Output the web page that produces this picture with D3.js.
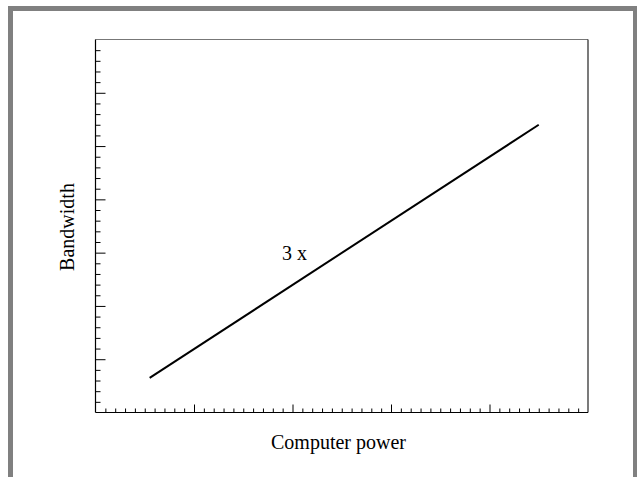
<!DOCTYPE html>
<html>
<head>
<meta charset="utf-8">
<script src="https://cdn.jsdelivr.net/npm/d3@7"></script>
<style>
  html, body { margin: 0; padding: 0; background: #fff; }
  svg { display: block; }
</style>
</head>
<body>
<svg id="chart" width="637" height="477"></svg>
<script>
// ---- data ----
const xDomain = [0, 5];
const yDomain = [0, 7];
const xMajorTicks = [0, 1, 2, 3, 4, 5];
const xMinorStep = 0.1;
const yMajorTicks = [0, 1, 2, 3, 4, 5, 6, 7];
const yMinorStep = 0.2;
const lineX = [0.55, 4.5];
const lineY = [0.65, 5.4];
const annotationText = "3 x";
const annotationPos = [2.02, 2.87];
const xLabel = "Computer power";
const yLabel = "Bandwidth";

// ---- drawing ----
const svg = d3.select("#chart");
const W = 637, H = 477;
const mLeft = 95.5, mRight = 588, mTop = 39.5, mBottom = 412.5;

const x = d3.scaleLinear().domain(xDomain).range([mLeft, mRight]);
const y = d3.scaleLinear().domain(yDomain).range([mBottom, mTop]);

// gray frame
const frame = "#808080";
svg.append("rect").attr("x", 8).attr("y", 6).attr("width", W - 8).attr("height", 5).attr("fill", frame);
svg.append("rect").attr("x", 8).attr("y", 6).attr("width", 5).attr("height", H - 6).attr("fill", frame);
svg.append("rect").attr("x", 633).attr("y", 6).attr("width", 4).attr("height", H - 6).attr("fill", frame);

const font = "'Liberation Serif', 'Times New Roman', serif";

function range(a, b, step) {
  const out = [];
  const n = Math.round((b - a) / step);
  for (let i = 0; i <= n; i++) out.push(+(a + i * step).toFixed(6));
  return out;
}
const xMinor = range(xDomain[0], xDomain[1], xMinorStep).filter(v => !xMajorTicks.some(m => Math.abs(m - v) < 1e-6));
const yMinor = range(yDomain[0], yDomain[1], yMinorStep).filter(v => !yMajorTicks.some(m => Math.abs(m - v) < 1e-6));

function styleAxis(g) {
  g.select(".domain").remove();
  g.selectAll(".tick line").attr("stroke", "#000").attr("stroke-width", 1);
  g.selectAll(".tick text").remove();
}

// y ticks (inward)
svg.append("g").attr("transform", `translate(${mLeft},0)`)
  .call(d3.axisLeft(y).tickValues(yMinor).tickSize(-5).tickFormat(""))
  .call(styleAxis);
svg.append("g").attr("transform", `translate(${mLeft},0)`)
  .call(d3.axisLeft(y).tickValues(yMajorTicks.slice(1, -1)).tickSize(-10).tickFormat(""))
  .call(styleAxis);

// x ticks (inward)
svg.append("g").attr("transform", `translate(0,${mBottom})`)
  .call(d3.axisBottom(x).tickValues(xMinor).tickSize(-4).tickFormat(""))
  .call(styleAxis);
svg.append("g").attr("transform", `translate(0,${mBottom})`)
  .call(d3.axisBottom(x).tickValues(xMajorTicks.slice(1, -1)).tickSize(-8).tickFormat(""))
  .call(styleAxis);

// box
svg.append("line").attr("x1", mLeft).attr("x2", mRight).attr("y1", mTop).attr("y2", mTop)
  .attr("stroke", "#777").attr("stroke-width", 1.2);
svg.append("line").attr("x1", mRight).attr("x2", mRight).attr("y1", mTop).attr("y2", mBottom)
  .attr("stroke", "#222").attr("stroke-width", 1.2);
svg.append("line").attr("x1", mLeft).attr("x2", mLeft).attr("y1", mTop).attr("y2", mBottom)
  .attr("stroke", "#000").attr("stroke-width", 1.2);
svg.append("line").attr("x1", mLeft).attr("x2", mRight).attr("y1", mBottom).attr("y2", mBottom)
  .attr("stroke", "#000").attr("stroke-width", 1.2);

// data line
const pts = lineX.map((v, i) => [v, lineY[i]]);
svg.append("path")
  .datum(pts)
  .attr("d", d3.line().x(d => x(d[0])).y(d => y(d[1])))
  .attr("fill", "none").attr("stroke", "#000").attr("stroke-width", 2);

// annotation
svg.append("text")
  .attr("x", x(annotationPos[0])).attr("y", y(annotationPos[1]))
  .attr("text-anchor", "middle")
  .attr("font-family", font).attr("font-size", 20)
  .text(annotationText);

// axis labels
svg.append("text")
  .attr("x", 338.5).attr("y", 449)
  .attr("text-anchor", "middle")
  .attr("font-family", font).attr("font-size", 20)
  .text(xLabel);
svg.append("text")
  .attr("transform", `translate(74,227) rotate(-90)`)
  .attr("text-anchor", "middle")
  .attr("font-family", font).attr("font-size", 20)
  .text(yLabel);
</script>
</body>
</html>
